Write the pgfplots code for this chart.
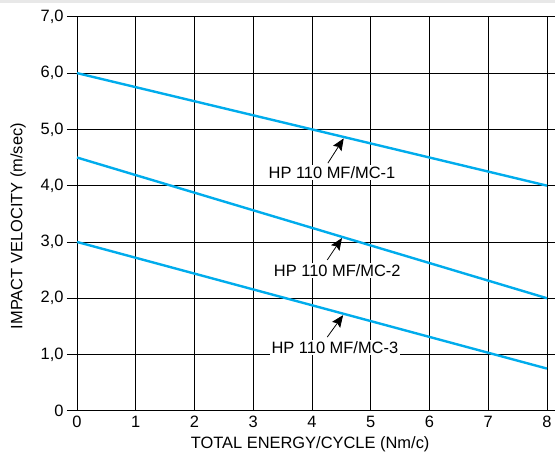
\documentclass[border=0pt]{standalone}
\usepackage{fontspec}
\setmainfont{Liberation Sans}
\usepackage{pgfplots}
\pgfplotsset{compat=1.18}
\usetikzlibrary{arrows.meta}
\definecolor{lineblue}{RGB}{0,172,236}
\newcommand{\lf}{\fontsize{16.5}{19}\selectfont}
\begin{document}
\begin{tikzpicture}
\begin{axis}[
  scale only axis, width=470bp, height=394bp,
  xmin=0, xmax=8, ymin=0, ymax=7,
  xtick={0,1,2,3,4,5,6,7,8},
  ytick={0,1,2,3,4,5,6,7},
  yticklabels={0,{1,0},{2,0},{3,0},{4,0},{5,0},{6,0},{7,0}},
  grid=major,
  grid style={black, line width=0.8pt},
  axis line style={black, line width=0.8pt},
  tick style={black, line width=0.8pt},
  tick align=outside,
  major tick length=10bp,
  xtick style={/pgfplots/major tick length=0pt},
  /pgf/number format/assume math mode=true,
  tick label style={font=\lf},
  xticklabel style={yshift=8bp},
  label style={font=\lf},
  xlabel={TOTAL ENERGY/CYCLE (Nm/c)},
  ylabel={IMPACT VELOCITY (m/sec)},
  xlabel style={at={(axis description cs:0.496,-0.084)}, anchor=center},
  ylabel style={at={(axis description cs:-0.1255,0.469)}, anchor=center, rotate=0},
  clip=false,
]
\addplot[lineblue, line width=2.4bp] coordinates {(0,6) (8,4)};
\addplot[lineblue, line width=2.4bp] coordinates {(0,4.5) (8,2)};
\addplot[lineblue, line width=2.4bp] coordinates {(0,3) (8,0.75)};
\node[fill=white, inner sep=1.5bp, font=\lf] at (axis cs:4.34,4.23) {HP 110 MF/MC-1};
\node[fill=white, inner sep=1.5bp, font=\lf] at (axis cs:4.43,2.49) {HP 110 MF/MC-2};
\node[fill=white, inner sep=1.5bp, font=\lf] at (axis cs:4.39,1.12) {HP 110 MF/MC-3};
\draw[black, line width=0.8pt, -{Stealth[length=12bp,width=10bp,inset=2bp]}] (axis cs:4.27,4.40) -- (axis cs:4.54,4.84);
\draw[black, line width=0.8pt, -{Stealth[length=12bp,width=10bp,inset=2bp]}] (axis cs:4.26,2.68) -- (axis cs:4.51,3.07);
\draw[black, line width=0.8pt, -{Stealth[length=12bp,width=10bp,inset=2bp]}] (axis cs:4.26,1.31) -- (axis cs:4.53,1.70);
\end{axis}
\fill[gray!18] (-77bp,407.8bp) rectangle (478bp,410.8bp);
\pgfresetboundingbox
\path (-77bp,-45.2bp) rectangle (478bp,410.8bp);
\end{tikzpicture}
\end{document}
